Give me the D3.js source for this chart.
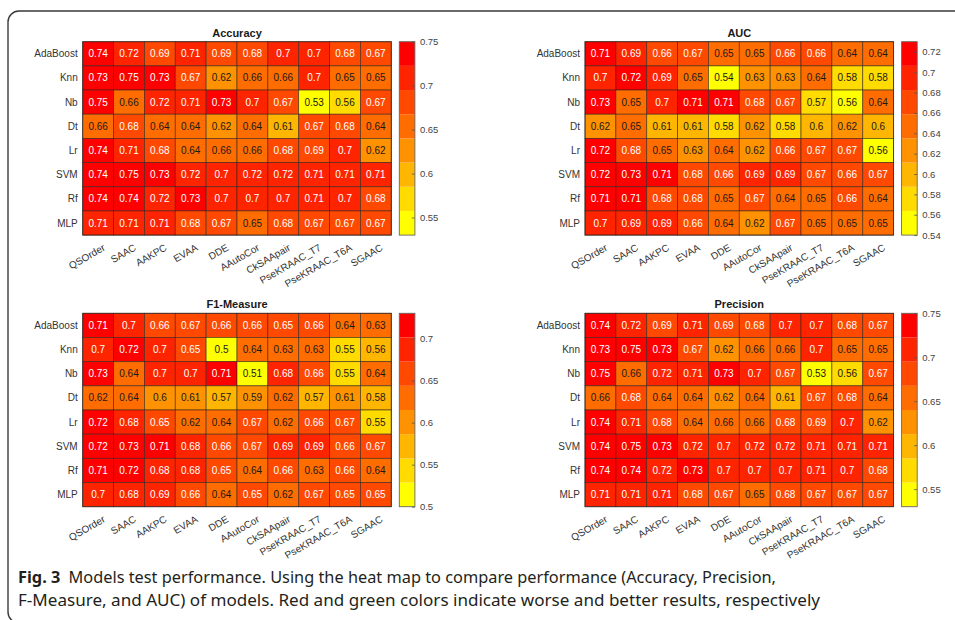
<!DOCTYPE html>
<html><head><meta charset="utf-8">
<script src="https://cdn.jsdelivr.net/npm/d3@7"></script>
<style>
html,body{margin:0;padding:0;background:#fff;}
svg{display:block;}
</style></head>
<body>
<svg id="chart" width="955" height="620"></svg>
<script>
// ---------- DATA ----------
const models = ["AdaBoost","Knn","Nb","Dt","Lr","SVM","Rf","MLP"];
const features = ["QSOrder","SAAC","AAKPC","EVAA","DDE","AAutoCor","CkSAApair","PseKRAAC_T7","PseKRAAC_T6A","SGAAC"];

const accuracy = [
  [0.74,0.72,0.69,0.71,0.69,0.68,0.7,0.7,0.68,0.67],
  [0.73,0.75,0.73,0.67,0.62,0.66,0.66,0.7,0.65,0.65],
  [0.75,0.66,0.72,0.71,0.73,0.7,0.67,0.53,0.56,0.67],
  [0.66,0.68,0.64,0.64,0.62,0.64,0.61,0.67,0.68,0.64],
  [0.74,0.71,0.68,0.64,0.66,0.66,0.68,0.69,0.7,0.62],
  [0.74,0.75,0.73,0.72,0.7,0.72,0.72,0.71,0.71,0.71],
  [0.74,0.74,0.72,0.73,0.7,0.7,0.7,0.71,0.7,0.68],
  [0.71,0.71,0.71,0.68,0.67,0.65,0.68,0.67,0.67,0.67]
];
const auc = [
  [0.71,0.69,0.66,0.67,0.65,0.65,0.66,0.66,0.64,0.64],
  [0.7,0.72,0.69,0.65,0.54,0.63,0.63,0.64,0.58,0.58],
  [0.73,0.65,0.7,0.71,0.71,0.68,0.67,0.57,0.56,0.64],
  [0.62,0.65,0.61,0.61,0.58,0.62,0.58,0.6,0.62,0.6],
  [0.72,0.68,0.65,0.63,0.64,0.62,0.66,0.67,0.67,0.56],
  [0.72,0.73,0.71,0.68,0.66,0.69,0.69,0.67,0.66,0.67],
  [0.71,0.71,0.68,0.68,0.65,0.67,0.64,0.65,0.66,0.64],
  [0.7,0.69,0.69,0.66,0.64,0.62,0.67,0.65,0.65,0.65]
];
const f1 = [
  [0.71,0.7,0.66,0.67,0.66,0.66,0.65,0.66,0.64,0.63],
  [0.7,0.72,0.7,0.65,0.5,0.64,0.63,0.63,0.55,0.56],
  [0.73,0.64,0.7,0.7,0.71,0.51,0.68,0.66,0.55,0.64],
  [0.62,0.64,0.6,0.61,0.57,0.59,0.62,0.57,0.61,0.58],
  [0.72,0.68,0.65,0.62,0.64,0.67,0.62,0.66,0.67,0.55],
  [0.72,0.73,0.71,0.68,0.66,0.67,0.69,0.69,0.66,0.67],
  [0.71,0.72,0.68,0.68,0.65,0.64,0.66,0.63,0.66,0.64],
  [0.7,0.68,0.69,0.66,0.64,0.65,0.62,0.67,0.65,0.65]
];
const precision = [
  [0.74,0.72,0.69,0.71,0.69,0.68,0.7,0.7,0.68,0.67],
  [0.73,0.75,0.73,0.67,0.62,0.66,0.66,0.7,0.65,0.65],
  [0.75,0.66,0.72,0.71,0.73,0.7,0.67,0.53,0.56,0.67],
  [0.66,0.68,0.64,0.64,0.62,0.64,0.61,0.67,0.68,0.64],
  [0.74,0.71,0.68,0.64,0.66,0.66,0.68,0.69,0.7,0.62],
  [0.74,0.75,0.73,0.72,0.7,0.72,0.72,0.71,0.71,0.71],
  [0.74,0.74,0.72,0.73,0.7,0.7,0.7,0.71,0.7,0.68],
  [0.71,0.71,0.71,0.68,0.67,0.65,0.68,0.67,0.67,0.67]
];
const accuracyTicks = [0.55,0.6,0.65,0.7,0.75];
const aucTicks = [0.54,0.56,0.58,0.6,0.62,0.64,0.66,0.68,0.7,0.72];
const f1Ticks = [0.5,0.55,0.6,0.65,0.7];
const precisionTicks = [0.55,0.6,0.65,0.7,0.75];
const titles = ["Accuracy","AUC","F1-Measure","Precision"];
const captionBold = "Fig. 3";
const captionLine1 = "Models test performance. Using the heat map to compare performance (Accuracy, Precision,";
const captionLine2 = "F-Measure, and AUC) of models. Red and green colors indicate worse and better results, respectively";

// ---------- LAYOUT ----------
const svg = d3.select("#chart");
const FONT = "'Liberation Sans', Arial, Helvetica, sans-serif";
const CAPFONT = "'Noto Sans','Open Sans','DejaVu Sans',sans-serif";
const nLevels = 8;
// reversed MATLAB 'autumn' with 8 levels (low -> yellow, high -> red)
const palette = d3.range(nLevels).map(k => d3.rgb(255, Math.round(255*(nLevels-1-k)/(nLevels-1)), 0).toString());

// frame
svg.append("rect").attr("x",8).attr("y",11).attr("width",980).attr("height",612)
  .attr("rx",11).attr("fill","none").attr("stroke","#3a3a3a").attr("stroke-width",1.4);

const panels = [
  {title:titles[0], data:accuracy,  ticks:accuracyTicks,  x0:82.7, y0:41.7},
  {title:titles[1], data:auc,       ticks:aucTicks,       x0:585,  y0:41.7},
  {title:titles[2], data:f1,        ticks:f1Ticks,        x0:82.7, y0:313.3},
  {title:titles[3], data:precision, ticks:precisionTicks, x0:585,  y0:313.3}
];
const W = 308.6, H = 193.4;

panels.forEach(p => {
  const g = svg.append("g").attr("transform",`translate(${p.x0},${p.y0})`);
  const x = d3.scaleBand().domain(features).range([0,W]);
  const y = d3.scaleBand().domain(models).range([0,H]);
  const all = p.data.flat();
  const vmin = d3.min(all), vmax = d3.max(all);
  const color = d3.scaleQuantize().domain([vmin,vmax]).range(palette);

  const cells = [];
  p.data.forEach((row,i) => row.forEach((v,j) => cells.push({m:models[i], f:features[j], v})));

  g.selectAll("rect.cell").data(cells).join("rect").attr("class","cell")
    .attr("x",d=>x(d.f)).attr("y",d=>y(d.m))
    .attr("width",x.bandwidth()).attr("height",y.bandwidth())
    .attr("fill",d=>color(d.v))
    .attr("stroke","rgba(50,35,30,0.7)").attr("stroke-width",0.8);

  g.selectAll("text.val").data(cells).join("text").attr("class","val")
    .attr("x",d=>x(d.f)+x.bandwidth()/2).attr("y",d=>y(d.m)+y.bandwidth()/2)
    .attr("text-anchor","middle").attr("dominant-baseline","central")
    .attr("font-family",FONT).attr("font-size",10)
    .attr("fill",d=>{const c=d3.rgb(color(d.v)); const L=(0.299*c.r+0.587*c.g+0.114*c.b)/255; return L>0.5?"#1a1a1a":"#ffffff";})
    .text(d=>String(d.v));

  g.append("rect").attr("x",0).attr("y",0).attr("width",W).attr("height",H)
    .attr("fill","none").attr("stroke","rgba(50,35,30,0.8)").attr("stroke-width",0.9);

  // row labels
  g.selectAll("text.row").data(models).join("text").attr("class","row")
    .attr("x",-5).attr("y",d=>y(d)+y.bandwidth()/2)
    .attr("text-anchor","end").attr("dominant-baseline","central")
    .attr("font-family",FONT).attr("font-size",10).attr("fill","#333").text(d=>d);

  // column labels
  g.selectAll("text.col").data(features).join("text").attr("class","col")
    .attr("transform",d=>`translate(${x(d)+x.bandwidth()/2+4},${H+8}) rotate(-30)`)
    .attr("text-anchor","end").attr("dy","0.75em")
    .attr("font-family",FONT).attr("font-size",10).attr("fill","#333").text(d=>d);

  // title
  g.append("text").attr("x",W/2).attr("y",-5).attr("text-anchor","middle")
    .attr("font-family",FONT).attr("font-size",11).attr("font-weight","bold")
    .attr("fill","#1a1a1a").text(p.title);

  // colorbar
  const cbX = W + 8, cbW = 15.6;
  const cb = g.append("g").attr("transform",`translate(${cbX},0)`);
  const cy = d3.scaleLinear().domain([vmin,vmax]).range([H,0]);
  const step = (vmax-vmin)/nLevels;
  cb.selectAll("rect.band").data(palette).join("rect").attr("class","band")
    .attr("x",0).attr("width",cbW)
    .attr("y",(c,k)=>cy(vmin+(k+1)*step)).attr("height",(c,k)=>cy(vmin+k*step)-cy(vmin+(k+1)*step))
    .attr("fill",c=>c);
  cb.append("rect").attr("x",0).attr("y",0).attr("width",cbW).attr("height",H)
    .attr("fill","none").attr("stroke","#666").attr("stroke-width",0.9);
  const axis = d3.axisRight(cy).tickValues(p.ticks).tickSize(-3).tickPadding(5).tickFormat(d=>String(+d.toFixed(2)));
  const ag = cb.append("g").attr("transform",`translate(${cbW},0)`).call(axis);
  ag.select(".domain").remove();
  ag.selectAll(".tick line").attr("stroke","#555").attr("stroke-width",0.8);
  ag.selectAll(".tick text").attr("font-family",FONT).attr("font-size",9.5).attr("fill","#444");
});

// caption
const cap1 = svg.append("text").attr("x",18).attr("y",583)
  .attr("font-family",CAPFONT).attr("font-size",16.5).attr("fill","#231f20")
  .attr("textLength",758).attr("lengthAdjust","spacingAndGlyphs");
cap1.append("tspan").attr("font-weight","bold").text(captionBold);
cap1.append("tspan").text("\u2002" + captionLine1);
svg.append("text").attr("x",18).attr("y",606)
  .attr("font-family",CAPFONT).attr("font-size",16.5).attr("fill","#231f20")
  .attr("textLength",802).attr("lengthAdjust","spacingAndGlyphs")
  .text(captionLine2);
</script>
</body></html>
